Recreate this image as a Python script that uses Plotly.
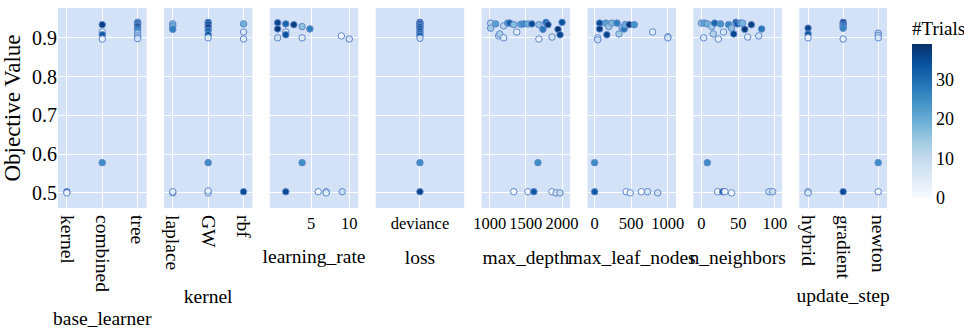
import plotly.graph_objects as go

# ---------------- data ----------------
base_learner_cats = ["kernel", "combined", "tree"]
base_learner_x = ["kernel", "kernel", "combined", "combined", "combined", "combined", "combined",
                  "tree", "tree", "tree", "tree", "tree", "tree", "tree", "tree", "tree", "tree"]
base_learner_y = [0.503, 0.500, 0.934, 0.915, 0.908, 0.897, 0.578,
                  0.940, 0.937, 0.933, 0.930, 0.925, 0.920, 0.912, 0.905, 0.900, 0.898]
base_learner_t = [36, 2, 37, 1, 33, 3, 25, 30, 34, 28, 38, 35, 26, 15, 12, 10, 8]

kernel_cats = ["laplace", "GW", "rbf"]
kernel_x = ["laplace"] * 5 + ["GW"] * 9 + ["rbf"] * 4
kernel_y = [0.936, 0.930, 0.922, 0.500, 0.503,
            0.940, 0.935, 0.928, 0.920, 0.908, 0.900, 0.578, 0.500, 0.505,
            0.936, 0.915, 0.897, 0.503]
kernel_t = [18, 20, 27, 2, 4, 33, 36, 38, 30, 34, 5, 25, 1, 3, 19, 6, 4, 35]

learning_rate_x = [2.73, 2.73, 2.73, 3.16, 3.16, 3.16, 3.66, 4.25, 4.25, 4.9, 8.66, 10.0,
                   4.25, 3.16, 5.69, 6.58, 6.58, 8.8]
learning_rate_y = [0.939, 0.923, 0.900, 0.936, 0.915, 0.908, 0.934, 0.929, 0.900, 0.923, 0.905, 0.897,
                   0.578, 0.503, 0.503, 0.503, 0.500, 0.503]
learning_rate_t = [36, 38, 8, 31, 3, 34, 37, 16, 5, 27, 2, 6, 25, 35, 1, 0, 4, 9]

loss_cats = ["deviance"]
loss_x = ["deviance"] * 11
loss_y = [0.940, 0.937, 0.933, 0.929, 0.925, 0.918, 0.912, 0.906, 0.899, 0.578, 0.503]
loss_t = [38, 36, 34, 37, 33, 35, 30, 32, 8, 25, 36]

max_depth_x = [1014, 1014, 1083, 1125, 1139, 1194, 1194, 1250, 1278, 1333, 1375, 1430, 1472, 1528,
               1583, 1680, 1680, 1736, 1778, 1806, 1861, 1944, 1972, 2000,
               1667, 1333, 1528, 1611, 1861, 1917, 1972]
max_depth_y = [0.938, 0.925, 0.936, 0.905, 0.910, 0.900, 0.931, 0.938, 0.938, 0.934, 0.915, 0.935,
               0.936, 0.936, 0.936, 0.934, 0.897, 0.922, 0.940, 0.934, 0.902, 0.922, 0.908, 0.940,
               0.578, 0.503, 0.503, 0.503, 0.503, 0.500, 0.500]
max_depth_t = [12, 14, 22, 7, 13, 5, 11, 24, 32, 17, 4, 23, 26, 19, 35, 16, 3, 28, 30, 37, 6, 38, 36, 34,
               25, 1, 2, 33, 0, 8, 9]

max_leaf_nodes_x = [69, 69, 42, 42, 153, 167, 194, 236, 306, 333, 375, 403, 417, 472, 542, 792, 1000, 1000,
                    0, 0, 431, 486, 639, 722, 861]
max_leaf_nodes_y = [0.938, 0.923, 0.900, 0.895, 0.938, 0.908, 0.929, 0.938, 0.938, 0.910, 0.926, 0.923,
                    0.934, 0.934, 0.934, 0.915, 0.903, 0.900,
                    0.578, 0.503, 0.503, 0.500, 0.503, 0.503, 0.500]
max_leaf_nodes_t = [35, 37, 3, 9, 22, 36, 15, 18, 27, 14, 16, 28, 20, 38, 24, 4, 5, 7,
                    25, 33, 1, 2, 0, 6, 8]

n_neighbors_x = [0, 4, 3, 8, 14, 18, 16, 23, 26, 30, 37, 41, 44, 47, 49, 53, 56, 59, 63, 68, 78, 82,
                 8, 22, 29, 32, 41, 92, 97]
n_neighbors_y = [0.938, 0.938, 0.900, 0.936, 0.929, 0.938, 0.910, 0.897, 0.936, 0.915, 0.934, 0.925,
                 0.910, 0.940, 0.936, 0.938, 0.938, 0.922, 0.902, 0.934, 0.905, 0.923,
                 0.578, 0.503, 0.503, 0.503, 0.500, 0.503, 0.503]
n_neighbors_t = [17, 21, 5, 19, 14, 31, 12, 3, 24, 6, 26, 16, 36, 32, 34, 22, 18, 38, 4, 37, 7, 28,
                 25, 1, 33, 2, 0, 8, 9]

update_step_cats = ["hybrid", "gradient", "newton"]
update_step_x = ["hybrid"] * 5 + ["gradient"] * 6 + ["newton"] * 5
update_step_y = [0.925, 0.910, 0.900, 0.503, 0.500,
                 0.940, 0.935, 0.930, 0.925, 0.897, 0.503,
                 0.912, 0.906, 0.900, 0.578, 0.503]
update_step_t = [36, 33, 3, 1, 5, 38, 34, 28, 26, 4, 35, 12, 10, 6, 25, 2]

y_ticks = [0.5, 0.6, 0.7, 0.8, 0.9]
colorbar_ticks = [0, 10, 20, 30]

panels = [
    ("base_learner", base_learner_x, base_learner_y, base_learner_t, "cat", base_learner_cats),
    ("kernel", kernel_x, kernel_y, kernel_t, "cat", kernel_cats),
    ("learning_rate", learning_rate_x, learning_rate_y, learning_rate_t, "log", [5, 10]),
    ("loss", loss_x, loss_y, loss_t, "cat1", loss_cats),
    ("max_depth", max_depth_x, max_depth_y, max_depth_t, "num", [1000, 1500, 2000]),
    ("max_leaf_nodes", max_leaf_nodes_x, max_leaf_nodes_y, max_leaf_nodes_t, "num", [0, 500, 1000]),
    ("n_neighbors", n_neighbors_x, n_neighbors_y, n_neighbors_t, "num", [0, 50, 100]),
    ("update_step", update_step_x, update_step_y, update_step_t, "cat", update_step_cats),
]
x_ranges = [[-0.25, 2.25], [-0.25, 2.25], [0.374, 1.071], [-1, 1],
            [889, 2111], [-97, 1111], [-11, 109.6], [-0.25, 2.25]]
title_standoffs = [20, 20, 17, 18, 18, 18, 18, 9]

# ---------------- figure ----------------
W, H = 964, 329
ML, MR, MT, MB = 58, 77, 8, 121
PW = W - ML - MR
FONT = "Liberation Serif"
BG = "rgb(212,226,247)"

fig = go.Figure()
layout = dict(
    width=W, height=H, margin=dict(l=ML, r=MR, t=MT, b=MB, autoexpand=False),
    paper_bgcolor="white", plot_bgcolor=BG, showlegend=False,
    font=dict(family=FONT, color="black"),
    coloraxis=dict(
        colorscale="Blues", cmin=0, cmax=39,
        colorbar=dict(
            title=dict(text="#Trials", side="top", font=dict(size=19, family=FONT)),
            tickvals=colorbar_ticks, tickfont=dict(size=18, family=FONT),
            thickness=20, len=0.9, y=0.05, yanchor="bottom", ypad=0,
            x=(912 - ML) / PW, xanchor="left", xpad=0, outlinewidth=0, ticks="",
        ),
    ),
)

for i, (name, xs, ys, ts, kind, ticks) in enumerate(panels):
    idx = "" if i == 0 else str(i + 1)
    start = ML + 105.9 * i
    end = start + 88.5
    d0 = max(0.0, (start - ML) / PW)
    d1 = min(1.0, (end - ML) / PW)
    fig.add_trace(go.Scatter(
        x=xs, y=ys, mode="markers", xaxis="x" + idx, yaxis="y" + idx,
        marker=dict(size=6.5, color=ts, coloraxis="coloraxis",
                    line=dict(width=1, color="rgb(95,135,205)")),
    ))
    xa = dict(domain=[d0, d1], anchor="y" + idx,
              showgrid=True, gridcolor="white", gridwidth=1, zeroline=False,
              showline=False, ticks="", range=x_ranges[i], automargin=False,
              title=dict(text=name, font=dict(size=19.5, family=FONT), standoff=title_standoffs[i]))
    if kind == "cat":
        xa.update(type="category", categoryorder="array", categoryarray=ticks,
                  tickangle=90, tickfont=dict(size=19.5, family=FONT), ticklabelstandoff=6)
    elif kind == "cat1":
        xa.update(type="category", categoryorder="array", categoryarray=ticks,
                  tickangle=0, tickfont=dict(size=16.5, family=FONT), ticklabelstandoff=3)
    elif kind == "log":
        xa.update(type="log", tickvals=ticks, tickfont=dict(size=16.5, family=FONT), tickangle=0,
                  ticklabelstandoff=3)
    else:
        xa.update(type="linear", tickvals=ticks, tickfont=dict(size=16.5, family=FONT), tickangle=0,
                  ticklabelstandoff=3)
    ya = dict(anchor="x" + idx, range=[0.461, 0.977], tickvals=y_ticks, automargin=False,
              showgrid=True, gridcolor="white", gridwidth=1, zeroline=False, ticks="")
    if i == 0:
        ya.update(title=dict(text="Objective Value", font=dict(size=23, family=FONT), standoff=8),
                  tickfont=dict(size=20, family=FONT))
    else:
        ya.update(showticklabels=False, matches="y")
    layout["xaxis" + idx] = xa
    layout["yaxis" + idx] = ya

fig.update_layout(**layout)
fig.write_html("out.html")
